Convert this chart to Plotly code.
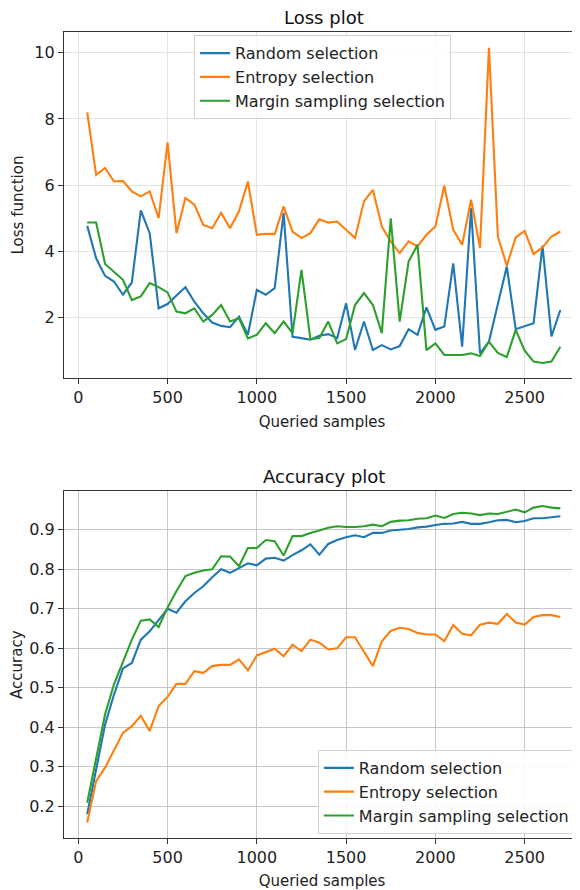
import plotly.graph_objects as go

# ---------------- data ----------------
queried_samples = [50, 100, 150, 200, 250, 300, 350, 400, 450, 500,
                   550, 600, 650, 700, 750, 800, 850, 900, 950, 1000,
                   1050, 1100, 1150, 1200, 1250, 1300, 1350, 1400, 1450, 1500,
                   1550, 1600, 1650, 1700, 1750, 1800, 1850, 1900, 1950, 2000,
                   2050, 2100, 2150, 2200, 2250, 2300, 2350, 2400, 2450, 2500,
                   2550, 2600, 2650, 2700]

series_names = ["Random selection", "Entropy selection", "Margin sampling selection"]

loss_random = [4.77, 3.79, 3.26, 3.09, 2.69, 3.06, 5.24, 4.55, 2.28, 2.41,
               2.67, 2.92, 2.48, 2.13, 1.85, 1.75, 1.71, 2.03, 1.48, 2.84,
               2.69, 2.89, 5.16, 1.42, 1.38, 1.33, 1.45, 1.50, 1.38, 2.43,
               1.02, 1.88, 1.02, 1.17, 1.04, 1.14, 1.65, 1.48, 2.31, 1.63,
               1.73, 3.64, 1.12, 5.31, 0.92, 1.27, 2.41, 3.54, 1.65, 1.73,
               1.83, 4.17, 1.43, 2.23]

loss_entropy = [8.20, 6.31, 6.52, 6.11, 6.13, 5.81, 5.66, 5.81, 5.00, 7.29,
                4.55, 5.61, 5.41, 4.80, 4.70, 5.16, 4.70, 5.21, 6.11, 4.50,
                4.53, 4.52, 5.36, 4.60, 4.40, 4.55, 4.97, 4.87, 4.90, 4.65,
                4.40, 5.51, 5.86, 4.75, 4.30, 3.95, 4.30, 4.15, 4.50, 4.75,
                5.98, 4.65, 4.20, 5.56, 4.10, 10.15, 4.45, 3.57, 4.42, 4.62,
                3.92, 4.12, 4.45, 4.60]

loss_margin = [4.87, 4.87, 3.62, 3.39, 3.14, 2.53, 2.64, 3.04, 2.92, 2.76,
               2.18, 2.13, 2.28, 1.88, 2.08, 2.38, 1.88, 1.98, 1.37, 1.48,
               1.83, 1.53, 1.88, 1.53, 3.44, 1.35, 1.38, 1.88, 1.22, 1.35,
               2.38, 2.74, 2.38, 1.53, 5.00, 1.88, 3.69, 4.20, 1.02, 1.22,
               0.87, 0.87, 0.87, 0.92, 0.84, 1.27, 0.93, 0.81, 1.63, 1.00,
               0.67, 0.63, 0.67, 1.12]

acc_random = [0.180, 0.298, 0.407, 0.483, 0.549, 0.563, 0.622, 0.643, 0.673, 0.700,
              0.690, 0.719, 0.740, 0.757, 0.780, 0.800, 0.791, 0.804, 0.815, 0.810,
              0.827, 0.829, 0.822, 0.836, 0.848, 0.863, 0.837, 0.864, 0.874, 0.881,
              0.886, 0.881, 0.892, 0.892, 0.898, 0.900, 0.902, 0.906, 0.908, 0.912,
              0.915, 0.916, 0.920, 0.915, 0.915, 0.919, 0.924, 0.925, 0.919, 0.922,
              0.929, 0.929, 0.931, 0.934]

acc_entropy = [0.159, 0.264, 0.298, 0.344, 0.386, 0.403, 0.429, 0.391, 0.454, 0.477,
               0.510, 0.510, 0.542, 0.538, 0.555, 0.558, 0.558, 0.572, 0.544, 0.582,
               0.591, 0.599, 0.580, 0.609, 0.593, 0.622, 0.614, 0.597, 0.600, 0.628,
               0.628, 0.593, 0.555, 0.618, 0.644, 0.652, 0.649, 0.639, 0.635, 0.635,
               0.618, 0.659, 0.637, 0.633, 0.660, 0.665, 0.662, 0.687, 0.665, 0.660,
               0.679, 0.684, 0.684, 0.679]

acc_margin = [0.209, 0.323, 0.433, 0.509, 0.568, 0.622, 0.670, 0.673, 0.654, 0.703,
              0.745, 0.783, 0.791, 0.797, 0.800, 0.833, 0.832, 0.808, 0.854, 0.854,
              0.874, 0.871, 0.835, 0.884, 0.884, 0.892, 0.898, 0.905, 0.909, 0.907,
              0.907, 0.909, 0.913, 0.909, 0.920, 0.923, 0.924, 0.928, 0.929, 0.936,
              0.930, 0.940, 0.943, 0.941, 0.937, 0.941, 0.940, 0.945, 0.951, 0.944,
              0.956, 0.960, 0.956, 0.954]

x_ticks = [0, 500, 1000, 1500, 2000, 2500]
loss_ticks = [2, 4, 6, 8, 10]
acc_ticks = [0.2, 0.3, 0.4, 0.5, 0.6, 0.7, 0.8, 0.9]

colors = ["#1f77b4", "#ff7f0e", "#2ca02c"]
FONT = "DejaVu Sans"

fig = go.Figure()

for name, vals, c in zip(series_names, [loss_random, loss_entropy, loss_margin], colors):
    fig.add_trace(go.Scatter(x=queried_samples, y=vals, mode="lines", name=name,
                             line=dict(color=c, width=2.1), xaxis="x", yaxis="y",
                             legend="legend"))

for name, vals, c in zip(series_names, [acc_random, acc_entropy, acc_margin], colors):
    fig.add_trace(go.Scatter(x=queried_samples, y=vals, mode="lines", name=name,
                             line=dict(color=c, width=2.1), xaxis="x2", yaxis="y2",
                             legend="legend2"))

axis_common = dict(showline=True, linecolor="#333333", linewidth=1.3,
                   ticks="outside", ticklen=5, tickwidth=1.2, tickcolor="#333333",
                   tickfont=dict(family=FONT, size=16, color="#222222"),
                   zeroline=False)

# page body has an 8px default margin: figure is sized/offset to compensate
fig.update_layout(
    width=572, height=882,
    margin=dict(l=56, r=0, t=24, b=52),
    paper_bgcolor="white", plot_bgcolor="white",
    font=dict(family=FONT, color="#222222"),
    xaxis=dict(domain=[0, 1], anchor="y", range=[-80, 2810], tickvals=x_ticks,
               mirror=True, showgrid=True, gridcolor="#e4e4e4", gridwidth=1.2,
               title=dict(text="Queried samples", font=dict(family=FONT, size=15), standoff=10),
               **axis_common),
    yaxis=dict(domain=[0.5707, 1], anchor="x", range=[0.175, 10.625], tickvals=loss_ticks,
               showgrid=True, gridcolor="#e4e4e4", gridwidth=1.2,
               title=dict(text="Loss function", font=dict(family=FONT, size=15), standoff=7),
               **axis_common),
    xaxis2=dict(domain=[0, 1], anchor="y2", range=[-80, 2810], tickvals=x_ticks,
                mirror=True, showgrid=True, gridcolor="#c6c6c6", gridwidth=1.2,
                title=dict(text="Queried samples", font=dict(family=FONT, size=15), standoff=9),
                **axis_common),
    yaxis2=dict(domain=[0, 0.430], anchor="x2", range=[0.12, 0.997], tickvals=acc_ticks,
                tickformat=".1f",
                showgrid=True, gridcolor="#c6c6c6", gridwidth=1.2,
                title=dict(text="Accuracy", font=dict(family=FONT, size=15), standoff=12),
                **axis_common),
    legend=dict(x=0.252, y=0.996, xanchor="left", yanchor="top",
                bgcolor="rgba(255,255,255,0.85)", bordercolor="#d0d0d0", borderwidth=1,
                font=dict(family=FONT, size=16, color="#222222")),
    legend2=dict(x=0.990, y=0.005, xanchor="right", yanchor="bottom",
                 bgcolor="rgba(255,255,255,0.85)", bordercolor="#d0d0d0", borderwidth=1,
                 font=dict(family=FONT, size=16, color="#222222")),
    annotations=[
        dict(text="Loss plot", x=0.504, y=1.0186, xref="paper", yref="paper",
             xanchor="center", yanchor="middle", showarrow=False,
             font=dict(family=FONT, size=18, color="#111111")),
        dict(text="Accuracy plot", x=0.504, y=0.449, xref="paper", yref="paper",
             xanchor="center", yanchor="middle", showarrow=False,
             font=dict(family=FONT, size=18, color="#111111")),
    ],
)

fig.write_html("out.html")
